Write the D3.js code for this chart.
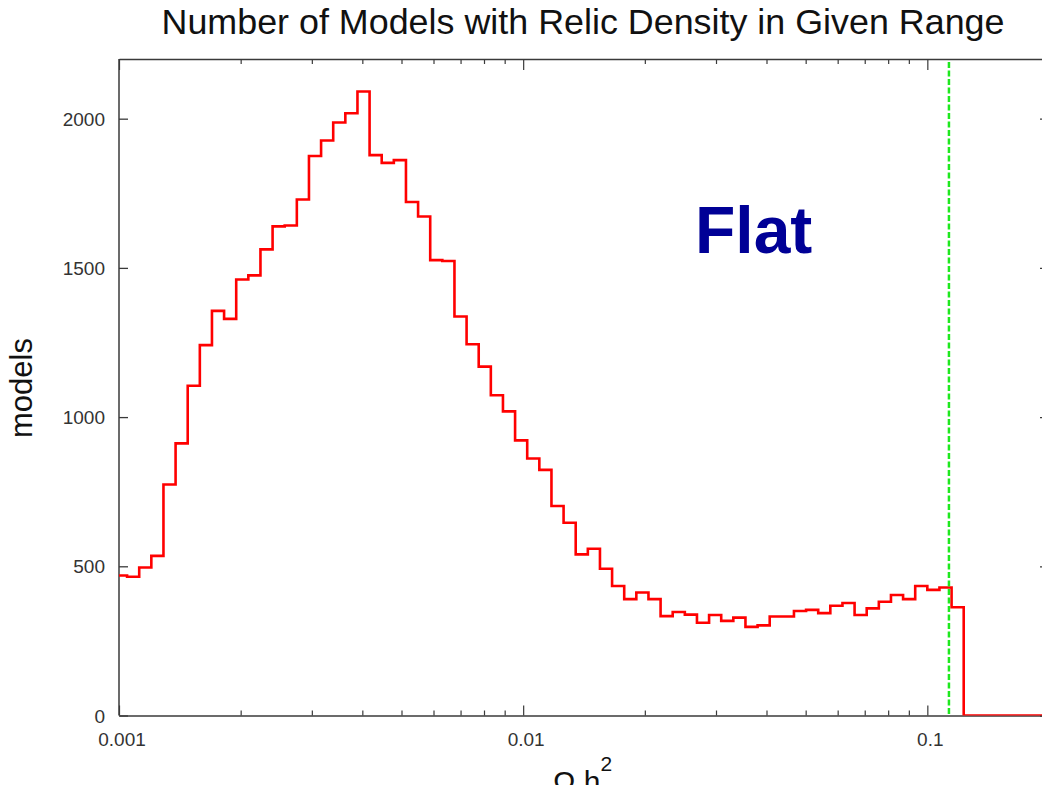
<!DOCTYPE html>
<html><head><meta charset="utf-8">
<script src="https://cdn.jsdelivr.net/npm/d3@7"></script>
<style>
html,body{margin:0;padding:0;background:#fff;}
svg{display:block;}
text{font-family:"Liberation Sans",Arial,Helvetica,sans-serif;}
</style></head>
<body>
<svg id="chart" width="1042" height="785"></svg>
<script>
// ---- data ----
const titleText = "Number of Models with Relic Density in Given Range";
const yLabel = "models";
const annotation = "Flat";
// histogram bin edges in log10(Omega h^2)
const binEdgesLog10 = [-3.01,-2.98,-2.95,-2.92,-2.89,-2.86,-2.83,-2.80,-2.77,-2.74,-2.71,-2.68,-2.65,-2.62,-2.59,-2.56,-2.53,-2.50,-2.47,-2.44,-2.41,-2.38,-2.35,-2.32,-2.29,-2.26,-2.23,-2.20,-2.17,-2.14,-2.11,-2.08,-2.05,-2.02,-1.99,-1.96,-1.93,-1.90,-1.87,-1.84,-1.81,-1.78,-1.75,-1.72,-1.69,-1.66,-1.63,-1.60,-1.57,-1.54,-1.51,-1.48,-1.45,-1.42,-1.39,-1.36,-1.33,-1.30,-1.27,-1.24,-1.21,-1.18,-1.15,-1.12,-1.09,-1.06,-1.03,-1.00,-0.97,-0.94,-0.91,-0.88,-0.85,-0.82,-0.79,-0.76,-0.73,-0.70];
// number of models per bin
const binCounts = [469,465,496,535,774,912,1105,1241,1356,1329,1461,1475,1562,1639,1642,1729,1875,1927,1987,2018,2091,1878,1852,1861,1721,1672,1526,1523,1337,1244,1169,1073,1019,922,861,823,702,646,540,559,492,434,390,412,390,333,347,338,311,337,317,328,297,302,332,332,350,354,343,368,377,337,359,381,404,390,434,421,429,363,0,0,0,0,0,0,0];
const xDomain = [0.001, 0.2];
const yDomain = [0, 2200];
const xTickLabels = [0.001, 0.01, 0.1];
const yTickValues = [0, 500, 1000, 1500, 2000];
const wmapValue = 0.1131;

// ---- layout ----
const svg = d3.select("#chart");
const L = 119, R = 1049, T = 59, B = 715.5;
const x = d3.scaleLog().domain(xDomain).range([L, R]);
const y = d3.scaleLinear().domain(yDomain).range([B, T]);

svg.append("defs").append("clipPath").attr("id","plotclip")
  .append("rect").attr("x",L).attr("y",T).attr("width",R-L).attr("height",B-T);

const allXTicks = x.ticks();
const isMajor = v => Math.abs(Math.log10(v) - Math.round(Math.log10(v))) < 1e-9;
const axisColor = "#3a3a3a";

// bottom axis
const gB = svg.append("g").attr("transform",`translate(0,${B})`);
gB.call(d3.axisBottom(x).tickValues(allXTicks).tickSize(0).tickFormat(""));
gB.select(".domain").attr("stroke",axisColor).attr("stroke-width",1.5);
gB.selectAll(".tick line").remove();
gB.selectAll(".tick").append("line")
  .attr("y1",0).attr("y2",d=>isMajor(d)?-10:-5)
  .attr("stroke",axisColor).attr("stroke-width",1.2);

// top axis
const gT = svg.append("g").attr("transform",`translate(0,${T})`);
gT.call(d3.axisTop(x).tickValues(allXTicks).tickSize(0).tickFormat(""));
gT.select(".domain").attr("stroke",axisColor).attr("stroke-width",1.5);
gT.selectAll(".tick line").remove();
gT.selectAll(".tick").append("line")
  .attr("y1",0).attr("y2",d=>isMajor(d)?11:5)
  .attr("stroke",axisColor).attr("stroke-width",1.2);

// x tick labels
svg.append("g").selectAll("text").data(xTickLabels).join("text")
  .attr("x",d=>x(d)+3).attr("y",746)
  .attr("text-anchor","middle").attr("font-size",19).attr("fill","#333")
  .text(d=>String(d));

// left axis
const gL = svg.append("g").attr("transform",`translate(${L},0)`);
gL.call(d3.axisRight(y).tickValues(yTickValues).tickSize(9).tickFormat(""));
gL.select(".domain").attr("stroke",axisColor).attr("stroke-width",1.5).attr("d",`M0,${T}V${B}`);
gL.selectAll(".tick line").attr("stroke",axisColor).attr("stroke-width",1.3);

// right axis
const gR = svg.append("g").attr("transform",`translate(${R},0)`);
gR.call(d3.axisLeft(y).tickValues(yTickValues).tickSize(9).tickFormat(""));
gR.select(".domain").attr("stroke",axisColor).attr("stroke-width",1.5).attr("d",`M0,${T}V${B}`);
gR.selectAll(".tick line").attr("stroke",axisColor).attr("stroke-width",1.3);

// y tick labels
svg.append("g").selectAll("text").data(yTickValues).join("text")
  .attr("x",105).attr("y",d=>y(d)+7)
  .attr("text-anchor","end").attr("font-size",19).attr("fill","#333")
  .text(d=>String(d));

// histogram step line
const pts = binCounts.map((c,i)=>[Math.pow(10,binEdgesLog10[i]), c]);
pts.push([Math.pow(10,binEdgesLog10[binEdgesLog10.length-1]), binCounts[binCounts.length-1]]);
const line = d3.line().x(d=>x(d[0])).y(d=>y(d[1])).curve(d3.curveStepAfter);
svg.append("path").attr("clip-path","url(#plotclip)")
  .attr("d",line(pts)).attr("fill","none")
  .attr("stroke","#ff0000").attr("stroke-width",2.6).attr("stroke-linejoin","miter");

// WMAP line
svg.append("line")
  .attr("x1",x(wmapValue)).attr("x2",x(wmapValue))
  .attr("y1",T+3).attr("y2",B)
  .attr("stroke","#1ee81e").attr("stroke-width",2.5).attr("stroke-dasharray","6,2.5");

// title
svg.append("text").attr("x",583).attr("y",34).attr("text-anchor","middle")
  .attr("font-size",35).attr("fill","#111")
  .attr("textLength",843).attr("lengthAdjust","spacingAndGlyphs").text(titleText);

// y label
svg.append("text").attr("transform","translate(32,388) rotate(-90)")
  .attr("text-anchor","middle").attr("font-size",31).attr("fill","#111").text(yLabel);

// x label
const xl = svg.append("text").attr("x",553).attr("y",792).attr("font-size",30).attr("fill","#111");
xl.append("tspan").text("\u03A9 h");
xl.append("tspan").attr("dy",-21).attr("font-size",21).text("2");

// annotation
svg.append("text").attr("x",695).attr("y",252.5).attr("font-size",66)
  .attr("font-weight","bold").attr("fill","#000096").text(annotation);
</script>
</body></html>
